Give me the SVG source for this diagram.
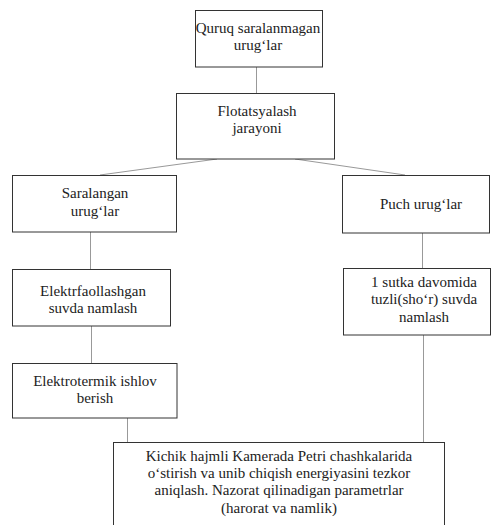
<svg xmlns="http://www.w3.org/2000/svg" width="499" height="525" viewBox="0 0 499 525">
<style>
.box{fill:#fff;stroke:#333;stroke-width:1}
.c{stroke:#999;stroke-width:1;fill:none}
.t{font-size:15px;fill:#222;text-anchor:middle}
</style>
<rect width="499" height="525" fill="#fff"/>
<g id="connectors">
<line class="c" x1="256.5" y1="67" x2="256.5" y2="93"/>
<line class="c" x1="217" y1="159" x2="100" y2="175"/>
<line class="c" x1="295" y1="159" x2="405" y2="175"/>
<line class="c" x1="90.5" y1="232" x2="90.5" y2="269"/>
<line class="c" x1="91.5" y1="326" x2="91.5" y2="363"/>
<line class="c" x1="127.5" y1="418" x2="127.5" y2="442"/>
<line class="c" x1="422.5" y1="233" x2="422.5" y2="268"/>
<line class="c" x1="423.5" y1="335" x2="423.5" y2="442"/>
</g>
<g class="t" font-family="Liberation Serif, DejaVu Serif, serif">
<g id="n1">
<rect class="box" x="195.5" y="10.5" width="127" height="56.5"/>
<text x="258" y="33">Quruq saralanmagan</text>
<text x="258" y="50">urug‘lar</text>
</g>
<g id="n2">
<rect class="box" x="176.5" y="93.5" width="158" height="65.5"/>
<text x="257" y="116">Flotatsyalash</text>
<text x="257" y="133">jarayoni</text>
</g>
<g id="n3">
<rect class="box" x="12.5" y="175.5" width="164" height="56.5"/>
<text x="95" y="198">Saralangan</text>
<text x="95" y="216">urug‘lar</text>
</g>
<g id="n4">
<rect class="box" x="342.5" y="175.5" width="147" height="57.5"/>
<text x="421" y="209">Puch urug‘lar</text>
</g>
<g id="n5">
<rect class="box" x="12.5" y="269.5" width="158" height="56.5"/>
<text x="93" y="296">Elektrfaollashgan</text>
<text x="93" y="313">suvda namlash</text>
</g>
<g id="n6">
<rect class="box" x="343.5" y="268.5" width="147" height="66.5"/>
<text x="424" y="287">1 sutka davomida</text>
<text x="424" y="304">tuzli(sho‘r) suvda</text>
<text x="424" y="322">namlash</text>
</g>
<g id="n7">
<rect class="box" x="12.5" y="363.5" width="164.5" height="54.5"/>
<text x="95" y="386">Elektrotermik ishlov</text>
<text x="95" y="403">berish</text>
</g>
<g id="n8">
<rect class="box" x="113.5" y="442.5" width="331" height="90"/>
<text x="279" y="461">Kichik hajmli Kamerada Petri chashkalarida</text>
<text x="279" y="478">o‘stirish va unib chiqish energiyasini tezkor</text>
<text x="279" y="495">aniqlash. Nazorat qilinadigan parametrlar</text>
<text x="279" y="513">(harorat va namlik)</text>
</g>
</g>
</svg>
